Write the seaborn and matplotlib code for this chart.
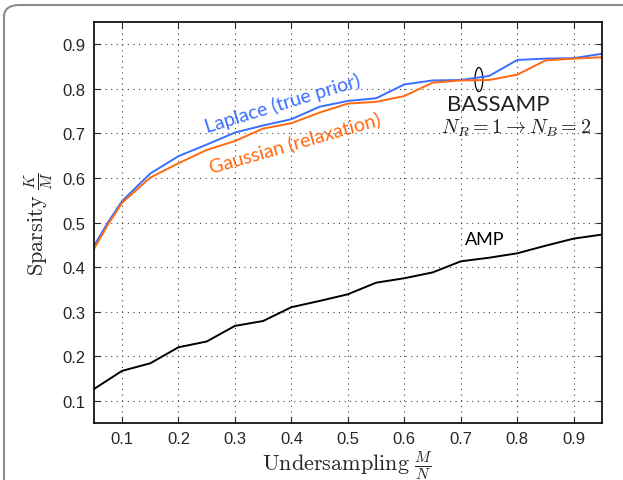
import numpy as np
import pandas as pd
import seaborn as sns
import matplotlib.pyplot as plt
from matplotlib.patches import Ellipse, FancyBboxPatch

# undersampling ratio M/N
undersampling = [0.05, 0.075, 0.1, 0.15, 0.2, 0.25, 0.3, 0.35, 0.4, 0.45, 0.5,
                 0.55, 0.6, 0.65, 0.7, 0.75, 0.8, 0.85, 0.9, 0.95]
laplace = [0.447, 0.500, 0.548, 0.610, 0.649, 0.675, 0.702, 0.718, 0.732, 0.760, 0.773,
           0.779, 0.810, 0.819, 0.820, 0.829, 0.865, 0.868, 0.869, 0.879]
gaussian = [0.440, 0.495, 0.544, 0.601, 0.633, 0.663, 0.683, 0.711, 0.723, 0.747, 0.767,
            0.771, 0.784, 0.814, 0.819, 0.820, 0.832, 0.864, 0.868, 0.871]
amp_x = [0.05, 0.1, 0.15, 0.2, 0.25, 0.3, 0.35, 0.4, 0.45, 0.5,
         0.55, 0.6, 0.65, 0.7, 0.75, 0.8, 0.85, 0.9, 0.95]
amp = [0.126, 0.167, 0.184, 0.220, 0.233, 0.268, 0.279, 0.310, 0.324, 0.339,
       0.365, 0.375, 0.388, 0.413, 0.421, 0.431, 0.448, 0.464, 0.473]
ticks = [0.1, 0.2, 0.3, 0.4, 0.5, 0.6, 0.7, 0.8, 0.9]

blue = '#3a6eff'
orange = '#ff6a10'

sns.set_style('ticks')
plt.rcParams['font.family'] = ['Liberation Sans', 'DejaVu Sans']
plt.rcParams['mathtext.fontset'] = 'cm'

fig = plt.figure(figsize=(6.23, 4.81), dpi=100)
ax = fig.add_axes([0.1505, 0.1185, 0.8158, 0.8335])

# outer rounded frame (clipped by the figure edge on right/bottom)
frame = FancyBboxPatch((0.0064, -0.2), 1.3, 1.1875,
                       boxstyle='round,pad=0,rounding_size=0.025',
                       transform=fig.transFigure, fill=False,
                       edgecolor='#8a8a8a', linewidth=1.5)
fig.patches.append(frame)

sns.lineplot(x=undersampling, y=laplace, ax=ax, color=blue, linewidth=1.4)
sns.lineplot(x=undersampling, y=gaussian, ax=ax, color=orange, linewidth=1.4)
sns.lineplot(x=amp_x, y=amp, ax=ax, color='black', linewidth=1.4)

ax.set_xlim(0.05, 0.95)
ax.set_ylim(0.05, 0.95)
ax.set_xticks(ticks)
ax.set_yticks(ticks)
ax.set_xticklabels([f'{t:.1f}' for t in ticks])
ax.set_yticklabels([f'{t:.1f}' for t in ticks])
ax.tick_params(direction='in', top=True, right=True, labelsize=12,
               length=4, width=0.8, pad=6)
ax.grid(True, linestyle=(0, (1, 4)), color='#444444', linewidth=0.8)
for s in ax.spines.values():
    s.set_linewidth(1.2)
    s.set_color('black')

ax.set_xlabel(r'$\mathrm{Undersampling}\ \frac{M}{N}$', fontsize=16, labelpad=1)
ax.set_ylabel(r'$\mathrm{Sparsity}\ \frac{K}{M}$', fontsize=16, labelpad=5)

ax.text(0.385, 0.770, 'Laplace (true prior)', color=blue, fontsize=14,
        family='Lato', rotation=17, ha='center', va='center')
ax.text(0.406, 0.680, 'Gaussian (relaxation)', color=orange, fontsize=14,
        family='Lato', rotation=16, ha='center', va='center')
ax.text(0.767, 0.765, 'BASSAMP', color='#222222', fontsize=16,
        family='Lato', ha='center', va='center')
ax.text(0.798, 0.714, r'$N_R = 1 \rightarrow N_B = 2$', color='#222222',
        fontsize=14.5, ha='center', va='center')
ax.text(0.743, 0.463, 'AMP', color='black', fontsize=13,
        family='Lato', ha='center', va='center')

ax.add_patch(Ellipse((0.732, 0.821), 0.014, 0.054, fill=False,
                     edgecolor='black', linewidth=0.9))

fig.savefig('out.png', dpi=100)
